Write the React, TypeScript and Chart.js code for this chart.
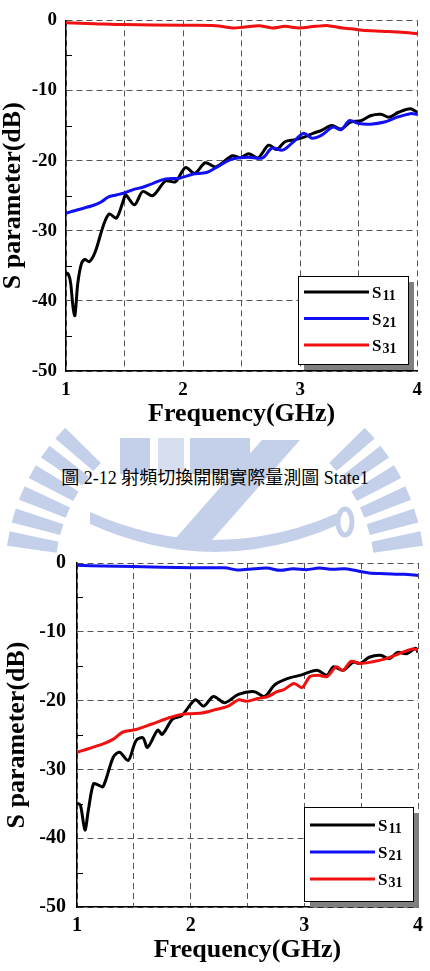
import React, { useEffect, useRef } from "react";
import { Chart, registerables } from "chart.js";

Chart.register(...registerables);

// ---------- shared axis data ----------
const X_TICK_VALUES = [1, 2, 3, 4];
const X_TICK_LABELS = ["1", "2", "3", "4"];
const Y_TICK_VALUES = [0, -10, -20, -30, -40, -50];
const Y_TICK_LABELS = ["0", "-10", "-20", "-30", "-40", "-50"];
const Y_MINOR_TICKS = [-5, -15, -25, -35, -45];
const SERIES_LABELS = ["S11", "S21", "S31"];
const X_TITLE = "Frequency(GHz)";
const Y_TITLE = "S parameter(dB)";
const CAPTION = "圖 2-12 射頻切換開關實際量測圖 State1";

// ---------- chart 1 (State1) ----------
const s1S11Freq = [1.0, 1.02, 1.04, 1.06, 1.076, 1.1, 1.13, 1.16, 1.2, 1.25, 1.32, 1.37, 1.43, 1.49, 1.51, 1.585, 1.655, 1.74, 1.85, 1.935, 2.02, 2.1, 2.19, 2.28, 2.42, 2.49, 2.56, 2.64, 2.73, 2.8, 2.87, 2.96, 3.04, 3.11, 3.18, 3.27, 3.35, 3.43, 3.52, 3.6, 3.69, 3.76, 3.84, 3.94, 4.0];
const s1S11dB = [-36.0, -36.2, -37.5, -40.9, -42.1, -37.6, -34.8, -34.1, -34.4, -33.0, -29.2, -27.6, -28.2, -25.7, -24.9, -26.3, -24.4, -25.0, -22.9, -23.0, -21.0, -21.8, -20.3, -20.9, -19.3, -19.6, -19.0, -19.6, -17.8, -18.4, -17.3, -17.0, -16.6, -16.1, -15.7, -15.0, -15.5, -14.5, -14.3, -13.6, -13.4, -13.8, -13.1, -12.6, -13.1];

const s1S21Freq = [1.0, 1.1, 1.23, 1.3, 1.36, 1.43, 1.5, 1.58, 1.655, 1.75, 1.85, 1.97, 2.08, 2.2, 2.28, 2.4, 2.48, 2.56, 2.68, 2.76, 2.85, 2.93, 3.03, 3.1, 3.18, 3.28, 3.35, 3.42, 3.5, 3.6, 3.72, 3.83, 3.94, 4.0];
const s1S21dB = [-27.5, -27.0, -26.4, -25.9, -25.2, -24.9, -24.6, -24.1, -23.8, -23.2, -22.6, -22.5, -21.95, -21.7, -21.0, -19.9, -19.6, -19.5, -19.6, -18.2, -18.5, -17.5, -16.1, -16.8, -16.4, -15.2, -15.6, -14.3, -14.7, -14.8, -14.5, -13.8, -13.3, -13.4];

const s1S31Freq = [1.0, 1.24, 1.49, 2.0, 2.28, 2.42, 2.53, 2.65, 2.76, 2.87, 2.99, 3.13, 3.24, 3.36, 3.44, 3.53, 3.7, 3.87, 4.0];
const s1S31dB = [-0.35, -0.47, -0.6, -0.7, -0.75, -1.08, -0.94, -0.75, -1.08, -0.85, -1.08, -0.85, -0.75, -1.08, -1.2, -1.4, -1.55, -1.7, -1.9];

// ---------- chart 2 ----------
const s2S11Freq = [1.0, 1.03, 1.07, 1.1, 1.145, 1.19, 1.23, 1.32, 1.375, 1.45, 1.52, 1.58, 1.62, 1.71, 1.75, 1.84, 1.92, 2.04, 2.115, 2.2, 2.3, 2.42, 2.56, 2.65, 2.74, 2.85, 2.97, 3.11, 3.2, 3.255, 3.34, 3.43, 3.49, 3.57, 3.67, 3.75, 3.82, 3.9, 3.98, 4.0];
const s2S11dB = [-34.9, -35.2, -38.8, -35.9, -32.1, -32.3, -32.5, -28.2, -27.5, -28.7, -25.8, -25.4, -26.8, -24.3, -24.9, -22.7, -22.2, -19.9, -20.8, -19.4, -20.3, -19.1, -18.7, -19.4, -17.7, -16.8, -16.3, -15.6, -16.3, -15.1, -15.6, -14.4, -14.6, -13.7, -13.4, -13.9, -13.0, -13.2, -12.4, -13.0];

const s2S21Freq = [1.0, 1.23, 1.49, 2.01, 2.3, 2.41, 2.56, 2.67, 2.79, 2.9, 3.02, 3.13, 3.25, 3.36, 3.48, 3.57, 3.71, 3.88, 4.0];
const s2S21dB = [-0.34, -0.44, -0.5, -0.7, -0.7, -1.0, -0.83, -0.73, -1.07, -0.83, -0.97, -0.73, -0.92, -0.83, -1.2, -1.46, -1.55, -1.65, -1.8];

const s2S31Freq = [1.0, 1.1, 1.23, 1.32, 1.4, 1.52, 1.66, 1.81, 1.92, 2.01, 2.1, 2.22, 2.33, 2.42, 2.49, 2.59, 2.68, 2.76, 2.82, 2.91, 2.98, 3.05, 3.125, 3.2, 3.28, 3.34, 3.41, 3.49, 3.59, 3.72, 3.83, 3.95, 4.0];
const s2S31dB = [-27.5, -27.0, -26.3, -25.6, -24.6, -24.2, -23.4, -22.5, -22.0, -21.9, -21.8, -21.3, -20.8, -19.9, -20.1, -19.7, -19.4, -18.7, -18.4, -17.5, -18.1, -16.5, -16.3, -16.5, -15.1, -15.6, -14.3, -14.6, -14.4, -13.9, -13.2, -12.5, -12.6];

const COLORS = ["#000000", "#1010f0", "#f01010"];
const SERIF = '"Liberation Serif", "Times New Roman", serif';

const pts = (f: number[], v: number[]) => f.map((x, i) => ({ x, y: v[i] }));

const legendBoxPlugin = {
  id: "legendBox",
  afterDatasetsDraw(chart: any, _a: any, opts: any) {
    const { ctx, chartArea } = chart;
    const w = opts.width, h = opts.height;
    const x = Math.round(chartArea.right - opts.right - w);
    const y = Math.round(chartArea.bottom - opts.bottom - h);
    ctx.save();
    ctx.fillStyle = "#7f7f7f";
    ctx.fillRect(x + 6, y + 6, w, h);
    ctx.fillStyle = "#ffffff";
    ctx.fillRect(x, y, w, h);
    ctx.strokeStyle = "#000";
    ctx.lineWidth = 1;
    ctx.strokeRect(x + 0.5, y + 0.5, w, h);
    chart.data.datasets.forEach((ds: any, i: number) => {
      const cy = y + opts.rowStart + i * opts.rowGap;
      ctx.strokeStyle = ds.borderColor;
      ctx.lineWidth = 3;
      ctx.beginPath();
      ctx.moveTo(x + 6, cy);
      ctx.lineTo(x + 71, cy);
      ctx.stroke();
      const label: string = ds.label;
      ctx.fillStyle = "#000";
      ctx.textBaseline = "alphabetic";
      ctx.textAlign = "left";
      ctx.font = `bold ${opts.fontSize}px ${SERIF}`;
      ctx.fillText(label[0], x + 74, cy + 6);
      const sw = ctx.measureText(label[0]).width;
      ctx.font = `bold ${opts.subSize}px ${SERIF}`;
      ctx.fillText(label.slice(1), x + 74 + sw + 1, cy + 8);
    });
    ctx.restore();
  },
};

const minorTickPlugin = {
  id: "minorTicks",
  afterDraw(chart: any) {
    const ys = chart.scales.y;
    const { ctx, chartArea } = chart;
    ctx.save();
    ctx.strokeStyle = "#000";
    ctx.lineWidth = 1;
    for (const v of Y_MINOR_TICKS) {
      const py = Math.round(ys.getPixelForValue(v)) + 0.5;
      ctx.beginPath();
      ctx.moveTo(chartArea.left, py);
      ctx.lineTo(chartArea.left + 6, py);
      ctx.stroke();
    }
    ctx.restore();
  },
};

type Series = { label: string; freq: number[]; db: number[]; color: string };

type PanelProps = {
  top: number;
  height: number;
  series: Series[];
  lay: {
    padTop: number; padRight: number; yWidth: number; xHeight: number;
    yTickPad: number; xTickPad: number; tickSize: number;
    yTitlePad: number; xTitlePad: number; titleSize: number;
  };
  legend: { width: number; height: number; right: number; bottom: number; rowStart: number; rowGap: number; fontSize: number; subSize: number };
};

function ChartPanel({ top, height, series, lay, legend }: PanelProps) {
  const ref = useRef<HTMLCanvasElement | null>(null);
  useEffect(() => {
    if (!ref.current) return;
    const tickFont = { family: SERIF, weight: "bold" as const, size: lay.tickSize };
    const titleFont = { family: SERIF, weight: "bold" as const, size: lay.titleSize, lineHeight: 1 };
    const chart = new Chart(ref.current, {
      type: "line",
      data: {
        datasets: series.map((s, i) => ({
          label: s.label,
          data: pts(s.freq, s.db),
          borderColor: s.color,
          backgroundColor: s.color,
          borderWidth: 3,
          pointRadius: 0,
          tension: 0.3,
          fill: false,
          order: series.length - i,
        })),
      },
      options: {
        animation: false,
        responsive: false,
        devicePixelRatio: 1,
        events: [],
        layout: { padding: { top: lay.padTop, right: lay.padRight, left: 0, bottom: 0 } },
        plugins: {
          legend: { display: false },
          tooltip: { enabled: false },
          legendBox: legend,
        } as any,
        scales: {
          x: {
            type: "linear",
            min: 1,
            max: 4,
            afterFit: (s: any) => { s.height = lay.xHeight; },
            ticks: {
              stepSize: 0.5,
              autoSkip: false,
              maxRotation: 0,
              padding: lay.xTickPad,
              color: "#000",
              font: tickFont,
              callback: (v: any) => {
                const i = X_TICK_VALUES.indexOf(Number(v));
                return i >= 0 ? X_TICK_LABELS[i] : "";
              },
            },
            grid: { color: "#555", lineWidth: 1, drawTicks: false },
            border: { display: true, color: "#000", width: 1.5, dash: [6, 4] },
            title: { display: true, text: X_TITLE, color: "#000", font: titleFont, padding: { top: 0, bottom: lay.xTitlePad } },
          },
          y: {
            type: "linear",
            min: -50,
            max: 0,
            afterFit: (s: any) => { s.width = lay.yWidth; },
            ticks: {
              stepSize: 10,
              padding: lay.yTickPad,
              color: "#000",
              font: tickFont,
              callback: (v: any) => {
                const i = Y_TICK_VALUES.indexOf(Number(v));
                return i >= 0 ? Y_TICK_LABELS[i] : "";
              },
            },
            grid: { color: "#555", lineWidth: 1, drawTicks: false },
            border: { display: true, color: "#000", width: 1.5, dash: [6, 4] },
            title: { display: true, text: Y_TITLE, color: "#000", font: titleFont, padding: { top: lay.yTitlePad, bottom: 0 } },
          },
        },
      } as any,
      plugins: [legendBoxPlugin as any, minorTickPlugin as any],
    });
    return () => chart.destroy();
  }, []);
  return (
    <canvas
      ref={ref}
      width={430}
      height={height}
      style={{ position: "absolute", left: 0, top, width: 430, height }}
    />
  );
}

function rayPath(cx: number, cy: number, r1: number, r2: number, a1: number, a2: number) {
  const rad = (d: number) => (d * Math.PI) / 180;
  const p = (r: number, a: number) => `${(cx + r * Math.cos(rad(a))).toFixed(1)},${(cy - r * Math.sin(rad(a))).toFixed(1)}`;
  return `M${p(r1, a1)} L${p(r2, a1)} L${p(r2, a2)} L${p(r1, a2)} Z`;
}

function Watermark() {
  const c = "#c4d0ea";
  const rays: string[] = [];
  const starts = [168, 161.5, 155, 148.5, 142, 135.5];
  for (const a of starts) {
    rays.push(rayPath(215, 575, 160, 210, a, a + 4));
    rays.push(rayPath(215, 575, 160, 210, 180 - a - 4, 180 - a));
  }
  return (
    <svg width={430} height={971} style={{ position: "absolute", left: 0, top: 0 }}>
      {rays.map((d, i) => (
        <path key={i} d={d} fill={c} />
      ))}
      <rect x={120} y={438} width={30} height={36} fill={c} />
      <rect x={158} y={438} width={26} height={36} fill={c} opacity={0.7} />
      <rect x={190} y={438} width={60} height={36} fill={c} />
      <path d="M262,440 L300,440 L205,548 L167,548 Z" fill={c} />
      <path d="M90,512 Q215,568 340,512 L340,524 Q215,580 90,524 Z" fill={c} />
      <ellipse cx={345} cy={522} rx={7} ry={13} fill="none" stroke={c} strokeWidth={5} />
    </svg>
  );
}

export default function App() {
  const series1: Series[] = [
    { label: SERIES_LABELS[0], freq: s1S11Freq, db: s1S11dB, color: COLORS[0] },
    { label: SERIES_LABELS[1], freq: s1S21Freq, db: s1S21dB, color: COLORS[1] },
    { label: SERIES_LABELS[2], freq: s1S31Freq, db: s1S31dB, color: COLORS[2] },
  ];
  const series2: Series[] = [
    { label: SERIES_LABELS[0], freq: s2S11Freq, db: s2S11dB, color: COLORS[0] },
    { label: SERIES_LABELS[1], freq: s2S21Freq, db: s2S21dB, color: COLORS[1] },
    { label: SERIES_LABELS[2], freq: s2S31Freq, db: s2S31dB, color: COLORS[2] },
  ];
  return (
    <div style={{ position: "absolute", left: 0, top: 0, width: 430, height: 971, background: "#fff", overflow: "hidden" }}>
      <Watermark />
      <div
        style={{
          position: "absolute",
          left: 0,
          top: 467,
          width: 430,
          textAlign: "center",
          fontFamily: '"Liberation Serif", "Noto Sans CJK TC", serif',
          fontSize: 18,
          lineHeight: "22px",
          color: "#000",
          whiteSpace: "nowrap",
        }}
      >
        {CAPTION}
      </div>
      <ChartPanel
        top={0}
        height={440}
        series={series1}
        lay={{ padTop: 16, padRight: 10, yWidth: 66, xHeight: 69, yTickPad: 9, xTickPad: 8, tickSize: 19, yTitlePad: 0, xTitlePad: 13, titleSize: 26 }}
        legend={{ width: 110, height: 88, right: 9, bottom: 7, rowStart: 16, rowGap: 26.5, fontSize: 17, subSize: 14 }}
      />
      <ChartPanel
        top={540}
        height={431}
        series={series2}
        lay={{ padTop: 23, padRight: 7, yWidth: 77, xHeight: 64, yTickPad: 11, xTickPad: 7, tickSize: 20, yTitlePad: 4, xTitlePad: 8, titleSize: 26 }}
        legend={{ width: 109, height: 94, right: 5, bottom: 6, rowStart: 18, rowGap: 27, fontSize: 17, subSize: 14 }}
      />
    </div>
  );
}
